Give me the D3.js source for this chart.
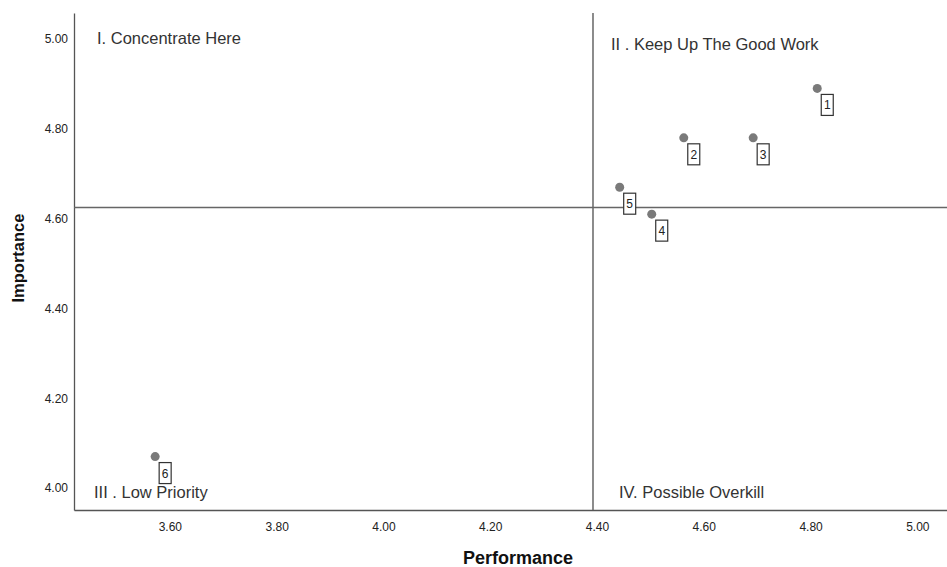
<!DOCTYPE html>
<html>
<head>
<meta charset="utf-8">
<script src="https://cdn.jsdelivr.net/npm/d3@7"></script>
<style>
body { margin: 0; background: #fff; }
svg { display: block; font-family: "Liberation Sans", Arial, sans-serif; }
</style>
</head>
<body>
<svg id="chart" width="947" height="567"></svg>
<script>
// item ids and their means
var items = ["1", "2", "3", "4", "5", "6"];
var performance = [4.82, 4.57, 4.70, 4.51, 4.45, 3.58];
var importance = [4.89, 4.78, 4.78, 4.61, 4.67, 4.07];
var xTicks = [3.6, 3.8, 4.0, 4.2, 4.4, 4.6, 4.8, 5.0];
var yTicks = [4.0, 4.2, 4.4, 4.6, 4.8, 5.0];
var refPerformance = 4.40;
var refImportance = 4.625;
var quadrantLabels = ["I. Concentrate Here", "II . Keep Up The Good Work", "III . Low Priority", "IV. Possible Overkill"];

var svg = d3.select("#chart");
var plot = {left: 74, right: 947, top: 13, bottom: 510};

var xScale = d3.scaleLinear().domain([3.428, 5.063]).range([plot.left, plot.right]);
var yScale = d3.scaleLinear().domain([3.951, 5.058]).range([plot.bottom, plot.top]);

var xAxis = svg.append("g")
    .attr("transform", "translate(0," + plot.bottom + ")")
    .call(d3.axisBottom(xScale).tickValues(xTicks).tickFormat(d3.format(".2f")).tickSize(0).tickPadding(12));
var yAxis = svg.append("g")
    .attr("transform", "translate(" + plot.left + ",0)")
    .call(d3.axisLeft(yScale).tickValues(yTicks).tickFormat(d3.format(".2f")).tickSize(0).tickPadding(6));

[xAxis, yAxis].forEach(function(ax) {
    ax.select(".domain").attr("stroke", "#555").attr("stroke-width", 1.3);
    ax.selectAll("text").attr("font-size", 12).attr("fill", "#222")
        .attr("font-family", "Liberation Sans, Arial, sans-serif");
});
xAxis.selectAll("text").attr("dx", 4);

// reference lines
svg.append("line")
    .attr("x1", xScale(refPerformance)).attr("x2", xScale(refPerformance))
    .attr("y1", plot.top).attr("y2", plot.bottom)
    .attr("stroke", "#666").attr("stroke-width", 1.5);
svg.append("line")
    .attr("x1", plot.left).attr("x2", plot.right)
    .attr("y1", yScale(refImportance)).attr("y2", yScale(refImportance))
    .attr("stroke", "#666").attr("stroke-width", 1.5);

// quadrant labels
var qPos = [
    {x: 97, y: 44}, {x: 611, y: 50}, {x: 94, y: 498}, {x: 619, y: 498}
];
svg.selectAll(".qlabel").data(quadrantLabels).enter()
    .append("text")
    .attr("class", "qlabel")
    .attr("x", (d, i) => qPos[i].x)
    .attr("y", (d, i) => qPos[i].y)
    .attr("font-size", 16.5)
    .attr("fill", "#333")
    .text(d => d);

var data = items.map((d, i) => ({id: d, x: performance[i], y: importance[i]}));

svg.selectAll(".dot").data(data).enter()
    .append("circle")
    .attr("cx", d => xScale(d.x))
    .attr("cy", d => yScale(d.y))
    .attr("r", 4.5)
    .attr("fill", "#7a7a7a");

var tags = svg.selectAll(".tag").data(data).enter()
    .append("g")
    .attr("transform", d => "translate(" + (xScale(d.x) + 4) + "," + (yScale(d.y) + 6) + ")");
tags.append("rect")
    .attr("width", 12).attr("height", 21)
    .attr("fill", "#fff").attr("stroke", "#333").attr("stroke-width", 1.2);
tags.append("text")
    .attr("x", 6).attr("y", 15)
    .attr("text-anchor", "middle")
    .attr("font-size", 12)
    .attr("fill", "#222")
    .text(d => d.id);

// axis titles
svg.append("text")
    .attr("x", 518).attr("y", 564)
    .attr("text-anchor", "middle")
    .attr("font-size", 18).attr("font-weight", "bold")
    .attr("fill", "#111")
    .text("Performance");
svg.append("text")
    .attr("transform", "translate(24,258) rotate(-90)")
    .attr("text-anchor", "middle")
    .attr("font-size", 16.5).attr("font-weight", "bold")
    .attr("fill", "#111")
    .text("Importance");
</script>
</body>
</html>
